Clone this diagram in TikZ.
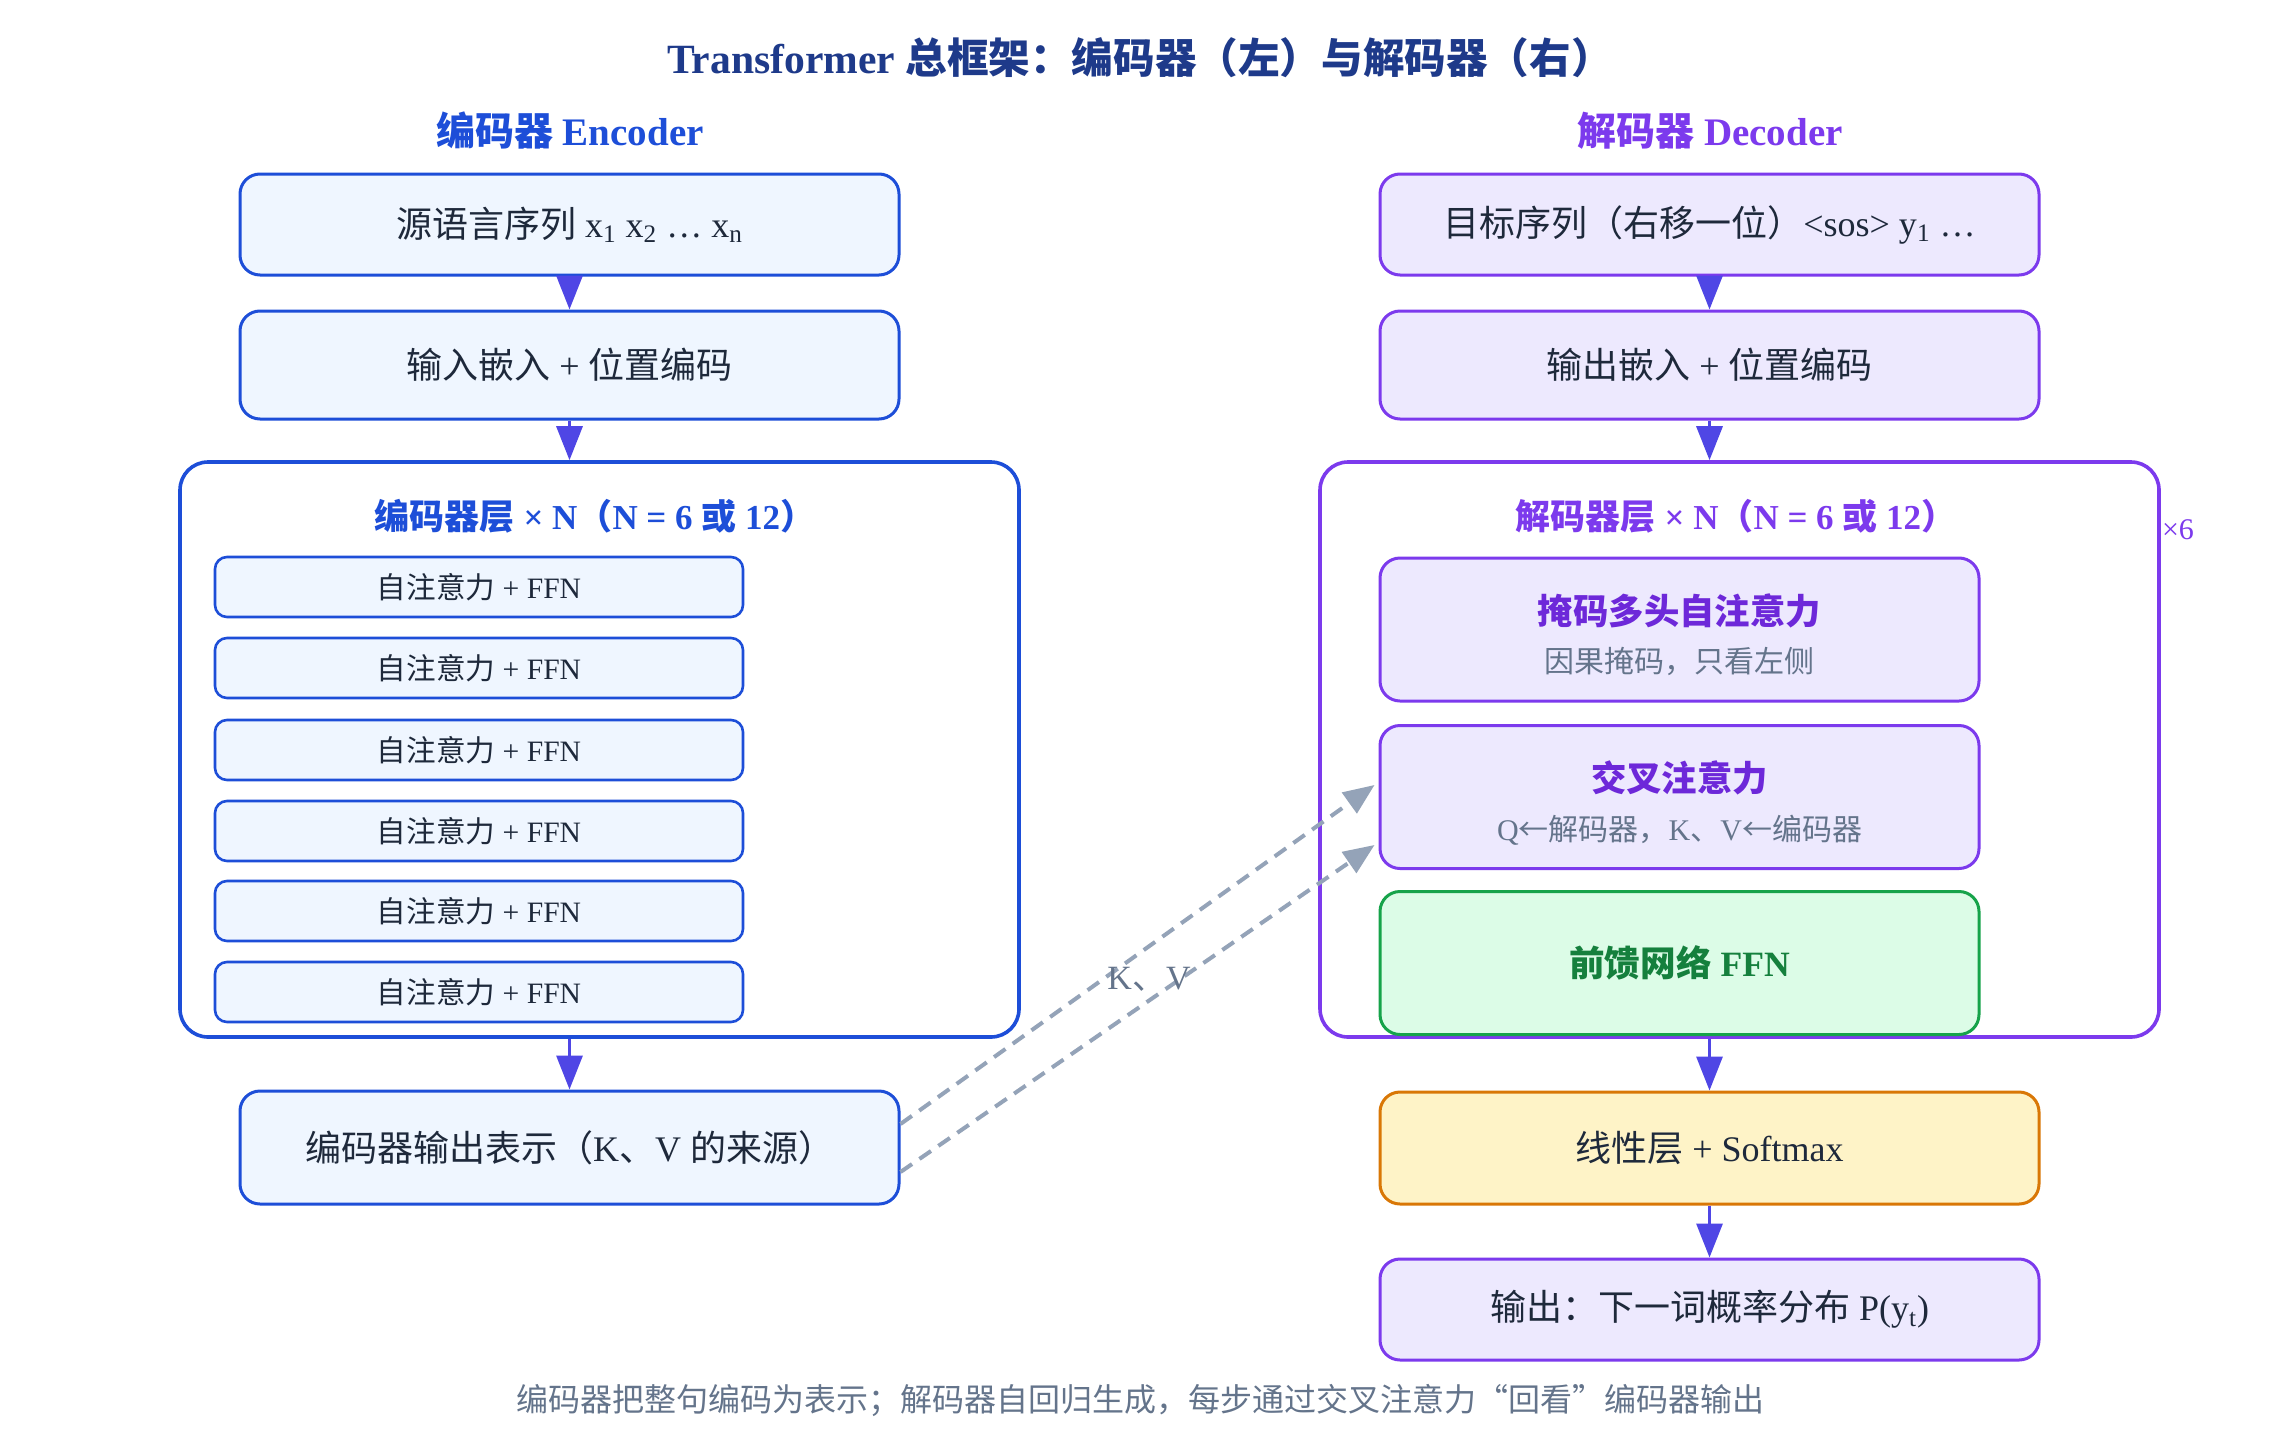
\documentclass[tikz,border=0pt]{standalone}
\usepackage{fontspec}
\setmainfont{Liberation Serif}
\newfontfamily\cjk{Noto Sans CJK SC}
\usetikzlibrary{arrows.meta,calc}
\definecolor{encB}{HTML}{1D4ED8}
\definecolor{encF}{HTML}{EFF6FF}
\definecolor{decB}{HTML}{7C3AED}
\definecolor{decF}{HTML}{EDE9FE}
\definecolor{ffnB}{HTML}{16A34A}
\definecolor{ffnF}{HTML}{DCFCE7}
\definecolor{ffnT}{HTML}{15803D}
\definecolor{linB}{HTML}{D97706}
\definecolor{linF}{HTML}{FEF3C7}
\definecolor{arrowc}{HTML}{4F46E5}
\definecolor{dashc}{HTML}{94A3B8}
\definecolor{txt}{HTML}{1E293B}
\definecolor{subc}{HTML}{64748B}
\definecolor{titlec}{HTML}{1E3A8A}
\definecolor{maskT}{HTML}{6D28D9}
\newcommand\zh[1]{{\cjk #1}}
\newcommand\fs[1]{\fontsize{#1}{#1}\selectfont}
\begin{document}
\begin{tikzpicture}[x=0.5pt,y=-0.5pt,
  box/.style={rounded corners=10pt, line width=1.5pt, inner sep=0pt, text=txt, font=\fs{18}},
  ebox/.style={box, draw=encB, fill=encF},
  dbox/.style={box, draw=decB, fill=decF},
  subbox/.style={box, rounded corners=6pt, line width=1.3pt, draw=encB, fill=encF,
    minimum width=264pt, minimum height=30pt, font=\fs{14.8}},
  inbox/.style={box, minimum width=299.5pt, minimum height=71.5pt},
  cont/.style={rounded corners=14pt, line width=1.8pt, inner sep=0pt,
    minimum width=419.5pt, minimum height=287.5pt},
  arr/.style={draw=arrowc, line width=1.6pt, -{Triangle[length=17pt,width=13pt]}},
  kv/.style={draw=dashc, line width=2pt, dash pattern=on 7pt off 4.5pt,
    -{Triangle[length=15.5pt,width=12.5pt]}},
  lbl/.style={inner sep=0pt},
]
\path[use as bounding box, fill=white] (0,0) rectangle (2280,1440);

% Title and headers
\node[lbl, text=titlec, font=\fs{20.8}\bfseries] (title) at (1140,58)
  {Transformer \zh{总框架：编码器（左）与解码器（右）}};
\node[lbl, text=encB, font=\fs{19.5}\bfseries] (ench) at (570,131) {\zh{编码器} Encoder};
\node[lbl, text=decB, font=\fs{19.5}\bfseries] (dech) at (1710,131) {\zh{解码器} Decoder};

% Encoder column
\node[ebox, minimum width=329.5pt, minimum height=50.5pt] (e1) at (569.5,224.5)
  {\zh{源语言序列} x\textsubscript{1} x\textsubscript{2} … x\textsubscript{n}};
\node[ebox, minimum width=329.5pt, minimum height=54pt] (e2) at (569.5,365)
  {\zh{输入嵌入} + \zh{位置编码}};
\node[cont, draw=encB] (enc) at (599.5,749.5) {};
\node[lbl, text=encB, font=\fs{17.5}\bfseries] (enct) at (595,516)
  {\zh{编码器层} × N\zh{（}N = 6 \zh{或} 12\zh{）}};
\node[subbox] (s1) at (479,587) {\zh{自注意力} + FFN};
\node[subbox] (s2) at (479,668) {\zh{自注意力} + FFN};
\node[subbox] (s3) at (479,750) {\zh{自注意力} + FFN};
\node[subbox] (s4) at (479,831) {\zh{自注意力} + FFN};
\node[subbox] (s5) at (479,911) {\zh{自注意力} + FFN};
\node[subbox] (s6) at (479,992) {\zh{自注意力} + FFN};
\node[ebox, minimum width=329.5pt, minimum height=56.5pt] (eout) at (569.5,1147.5)
  {\zh{编码器输出表示（}K\zh{、}V \zh{的来源）}};

% Decoder column
\node[dbox, minimum width=329.5pt, minimum height=50.5pt] (d1) at (1709.5,224.5)
  {\zh{目标序列（右移一位）}<sos> y\textsubscript{1} …};
\node[dbox, minimum width=329.5pt, minimum height=54pt] (d2) at (1709.5,365)
  {\zh{输出嵌入} + \zh{位置编码}};
\node[cont, draw=decB] (dec) at (1739.5,749.5) {};
\node[lbl, text=decB, font=\fs{17.5}\bfseries] (dect) at (1736,516)
  {\zh{解码器层} × N\zh{（}N = 6 \zh{或} 12\zh{）}};
\node[lbl, text=decB, font=\fs{15}] (x6) at (2178,530) {×6};
\node[inbox, dbox] (mask) at (1679.5,629.5) {};
\node[lbl, text=maskT, font=\fs{17.7}\bfseries] (maskt) at (1679.5,611) {\zh{掩码多头自注意力}};
\node[lbl, text=subc, font=\fs{15}] (masks) at (1679.5,661) {\zh{因果掩码，只看左侧}};
\node[inbox, dbox] (cross) at (1679.5,797) {};
\node[lbl, text=maskT, font=\fs{17.7}\bfseries] (crosst) at (1679.5,778) {\zh{交叉注意力}};
\node[lbl, text=subc, font=\fs{15}] (crosss) at (1679.5,830)
  {Q\zh{←解码器，}K\zh{、}V\zh{←编码器}};
\node[inbox, box, draw=ffnB, fill=ffnF, text=ffnT, font=\fs{17.8}\bfseries] (ffn) at (1679.5,963)
  {\zh{前馈网络} FFN};
\node[box, draw=linB, fill=linF, minimum width=329.5pt, minimum height=56pt] (lin) at (1709.5,1148)
  {\zh{线性层} + Softmax};
\node[dbox, minimum width=329.5pt, minimum height=50.5pt] (out) at (1709.5,1309.5)
  {\zh{输出：下一词概率分布} P(y\textsubscript{t})};

% Footer
\node[lbl, text=subc, font=\fs{16}] (foot) at (1140,1400)
  {\zh{编码器把整句编码为表示；解码器自回归生成，每步通过交叉注意力“回看”编码器输出}};

% Solid arrows
\draw[arr] (e1.south) -- (e2.north);
\draw[arr] (e2.south) -- (e2.south |- enc.north);
\draw[arr] (e2.south |- enc.south) -- (eout.north);
\draw[arr] (d1.south) -- (d2.north);
\draw[arr] (d2.south) -- (d2.south |- dec.north);
\draw[arr] (d2.south |- dec.south) -- (lin.north);
\draw[arr] (lin.south) -- (out.north);

% Dashed K,V arrows
\draw[kv] ([yshift=11.75pt]eout.east) -- ([xshift=-2pt,yshift=6pt]cross.west);
\draw[kv] ([yshift=-12.25pt]eout.east) -- ([xshift=-2pt,yshift=-24pt]cross.west);
\node[lbl, text=subc, font=\fs{17}] (kvl) at (1149,979) {K\zh{、}V};
\end{tikzpicture}
\end{document}
